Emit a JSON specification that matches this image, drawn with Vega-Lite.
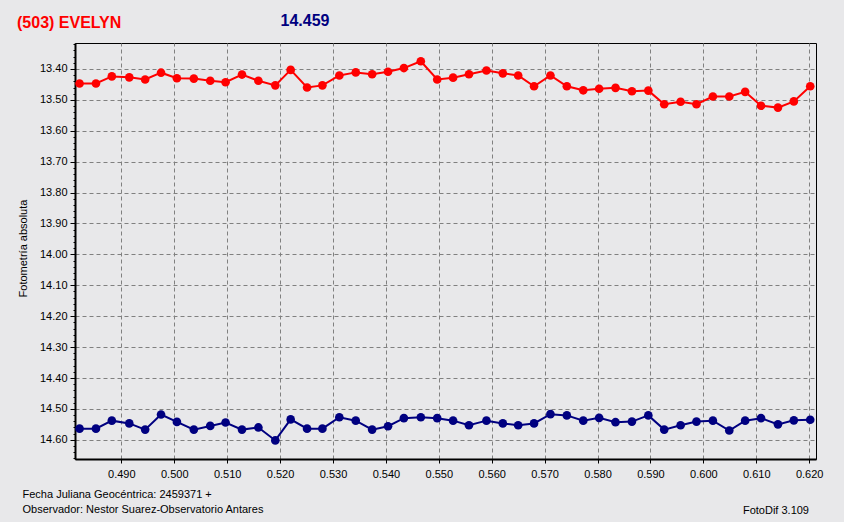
{
  "$schema": "https://vega.github.io/schema/vega-lite/v6.json",
  "autosize": {"type": "none"},
  "width": 741,
  "height": 416,
  "padding": {"left": 75, "top": 43, "right": 28, "bottom": 63},
  "background": "#e8e8ea",
  "config": {
    "view": {"stroke": "#000000", "strokeWidth": 1},
    "axis": {
      "labelFont": "Liberation Sans",
      "labelFontSize": 11,
      "labelColor": "#000000",
      "titleFont": "Liberation Sans",
      "titleFontSize": 11,
      "titleFontWeight": "normal",
      "titleColor": "#000000",
      "tickColor": "#000000",
      "domainColor": "#000000",
      "gridColor": "#808080",
      "gridDash": [4, 3],
      "gridWidth": 1
    }
  },
  "title": {
    "text": "(503) EVELYN",
    "color": "#ff0000",
    "font": "Liberation Sans",
    "fontSize": 16,
    "fontWeight": "bold",
    "anchor": "start",
    "frame": "group",
    "dx": -58,
    "dy": 22
  },
  "datasets": {
    "variable": [
      {"jd": 0.4821, "mag": 13.447}, {"jd": 0.4852, "mag": 13.447}, {"jd": 0.4882, "mag": 13.424},
      {"jd": 0.4915, "mag": 13.427}, {"jd": 0.4945, "mag": 13.434}, {"jd": 0.4975, "mag": 13.412},
      {"jd": 0.5005, "mag": 13.430}, {"jd": 0.5037, "mag": 13.431}, {"jd": 0.5068, "mag": 13.438},
      {"jd": 0.5097, "mag": 13.443}, {"jd": 0.5128, "mag": 13.418}, {"jd": 0.5159, "mag": 13.438},
      {"jd": 0.5191, "mag": 13.453}, {"jd": 0.5220, "mag": 13.403}, {"jd": 0.5251, "mag": 13.460},
      {"jd": 0.5280, "mag": 13.453}, {"jd": 0.5312, "mag": 13.421}, {"jd": 0.5343, "mag": 13.411},
      {"jd": 0.5374, "mag": 13.417}, {"jd": 0.5404, "mag": 13.409}, {"jd": 0.5434, "mag": 13.397},
      {"jd": 0.5466, "mag": 13.375}, {"jd": 0.5497, "mag": 13.434}, {"jd": 0.5527, "mag": 13.428},
      {"jd": 0.5557, "mag": 13.417}, {"jd": 0.5590, "mag": 13.405}, {"jd": 0.5621, "mag": 13.414},
      {"jd": 0.5650, "mag": 13.421}, {"jd": 0.5680, "mag": 13.456}, {"jd": 0.5711, "mag": 13.421},
      {"jd": 0.5742, "mag": 13.456}, {"jd": 0.5773, "mag": 13.469}, {"jd": 0.5803, "mag": 13.464},
      {"jd": 0.5834, "mag": 13.461}, {"jd": 0.5865, "mag": 13.472}, {"jd": 0.5896, "mag": 13.470},
      {"jd": 0.5926, "mag": 13.514}, {"jd": 0.5957, "mag": 13.506}, {"jd": 0.5987, "mag": 13.514},
      {"jd": 0.6018, "mag": 13.489}, {"jd": 0.6049, "mag": 13.489}, {"jd": 0.6079, "mag": 13.474},
      {"jd": 0.6109, "mag": 13.519}, {"jd": 0.6141, "mag": 13.525}, {"jd": 0.6171, "mag": 13.505},
      {"jd": 0.6202, "mag": 13.456}
    ],
    "comparison": [
      {"jd": 0.4821, "mag": 14.564}, {"jd": 0.4852, "mag": 14.564}, {"jd": 0.4882, "mag": 14.538},
      {"jd": 0.4915, "mag": 14.547}, {"jd": 0.4945, "mag": 14.567}, {"jd": 0.4975, "mag": 14.518},
      {"jd": 0.5005, "mag": 14.542}, {"jd": 0.5037, "mag": 14.567}, {"jd": 0.5068, "mag": 14.555},
      {"jd": 0.5097, "mag": 14.544}, {"jd": 0.5128, "mag": 14.567}, {"jd": 0.5159, "mag": 14.560},
      {"jd": 0.5191, "mag": 14.602}, {"jd": 0.5220, "mag": 14.534}, {"jd": 0.5251, "mag": 14.564},
      {"jd": 0.5280, "mag": 14.564}, {"jd": 0.5312, "mag": 14.527}, {"jd": 0.5343, "mag": 14.538},
      {"jd": 0.5374, "mag": 14.567}, {"jd": 0.5404, "mag": 14.556}, {"jd": 0.5434, "mag": 14.530},
      {"jd": 0.5466, "mag": 14.527}, {"jd": 0.5497, "mag": 14.530}, {"jd": 0.5527, "mag": 14.538},
      {"jd": 0.5557, "mag": 14.553}, {"jd": 0.5590, "mag": 14.538}, {"jd": 0.5621, "mag": 14.547},
      {"jd": 0.5650, "mag": 14.553}, {"jd": 0.5680, "mag": 14.547}, {"jd": 0.5711, "mag": 14.517},
      {"jd": 0.5742, "mag": 14.521}, {"jd": 0.5773, "mag": 14.538}, {"jd": 0.5803, "mag": 14.529},
      {"jd": 0.5834, "mag": 14.543}, {"jd": 0.5865, "mag": 14.541}, {"jd": 0.5896, "mag": 14.521},
      {"jd": 0.5926, "mag": 14.567}, {"jd": 0.5957, "mag": 14.553}, {"jd": 0.5987, "mag": 14.541},
      {"jd": 0.6018, "mag": 14.538}, {"jd": 0.6049, "mag": 14.570}, {"jd": 0.6079, "mag": 14.538},
      {"jd": 0.6109, "mag": 14.530}, {"jd": 0.6141, "mag": 14.550}, {"jd": 0.6171, "mag": 14.537},
      {"jd": 0.6202, "mag": 14.535}
    ]
  },
  "layer": [
    {
      "data": {"name": "variable"},
      "mark": {
        "type": "line",
        "color": "#ff0000",
        "strokeWidth": 2,
        "point": {"filled": true, "size": 75, "color": "#ff0000", "opacity": 1}
      },
      "encoding": {
        "x": {
          "field": "jd",
          "type": "quantitative",
          "scale": {"domain": [0.48124, 0.62129], "nice": false, "zero": false},
          "axis": {
            "orient": "bottom",
            "values": [0.49, 0.5, 0.51, 0.52, 0.53, 0.54, 0.55, 0.56, 0.57, 0.58, 0.59, 0.6, 0.61, 0.62],
            "format": ".3f",
            "grid": true,
            "tickSize": 4,
            "labelPadding": 5,
            "domainWidth": 2,
            "title": ["Fecha Juliana Geocéntrica: 2459371 +", "Observador: Nestor Suarez-Observatorio Antares"],
            "titleAlign": "left",
            "titleBaseline": "alphabetic",
            "titleX": -53,
            "titleY": 38,
            "titleLineHeight": 15.5
          }
        },
        "y": {
          "field": "mag",
          "type": "quantitative",
          "scale": {"domain": [13.3159, 14.6621], "reverse": true, "nice": false, "zero": false},
          "axis": {
            "orient": "left",
            "values": [13.32, 13.34, 13.36, 13.38, 13.4, 13.42, 13.44, 13.46, 13.48, 13.5, 13.52, 13.54, 13.56, 13.58, 13.6, 13.62, 13.64, 13.66, 13.68, 13.7, 13.72, 13.74, 13.76, 13.78, 13.8, 13.82, 13.84, 13.86, 13.88, 13.9, 13.92, 13.94, 13.96, 13.98, 14.0, 14.02, 14.04, 14.06, 14.08, 14.1, 14.12, 14.14, 14.16, 14.18, 14.2, 14.22, 14.24, 14.26, 14.28, 14.3, 14.32, 14.34, 14.36, 14.38, 14.4, 14.42, 14.44, 14.46, 14.48, 14.5, 14.52, 14.54, 14.56, 14.58, 14.6, 14.62, 14.64, 14.66],
            "labelExpr": "abs(datum.value * 10 - round(datum.value * 10)) < 0.001 ? format(datum.value, '.2f') : ''",
            "labelOverlap": false,
            "grid": true,
            "gridOpacity": {"condition": {"test": "abs(datum.value * 10 - round(datum.value * 10)) < 0.001", "value": 1}, "value": 0},
            "tickSize": {"condition": {"test": "abs(datum.value * 10 - round(datum.value * 10)) < 0.001", "value": 5}, "value": 2},
            "labelPadding": 3,
            "domainWidth": 2,
            "title": "Fotometría absoluta",
            "titleAngle": 270,
            "titleAlign": "center",
            "titleBaseline": "middle",
            "titleX": -52,
            "titleY": 205
          }
        }
      }
    },
    {
      "data": {"name": "comparison"},
      "mark": {
        "type": "line",
        "color": "#000080",
        "strokeWidth": 2,
        "point": {"filled": true, "size": 75, "color": "#000080", "opacity": 1}
      },
      "encoding": {
        "x": {
          "field": "jd",
          "type": "quantitative",
          "axis": {
            "orient": "top",
            "labels": false,
            "ticks": false,
            "domain": false,
            "grid": false,
            "title": "14.459",
            "titleColor": "#000080",
            "titleFontSize": 16,
            "titleFontWeight": "bold",
            "titleAlign": "left",
            "titleBaseline": "alphabetic",
            "titleX": 205,
            "titleY": -17.5
          }
        },
        "y": {
          "field": "mag",
          "type": "quantitative",
          "axis": {
            "orient": "right",
            "labels": false,
            "ticks": false,
            "domain": false,
            "grid": false,
            "title": "FotoDif 3.109",
            "titleAngle": 0,
            "titleAlign": "right",
            "titleBaseline": "alphabetic",
            "titleX": -7.5,
            "titleY": 470
          }
        }
      }
    }
  ],
  "resolve": {"axis": {"x": "independent", "y": "independent"}}
}
